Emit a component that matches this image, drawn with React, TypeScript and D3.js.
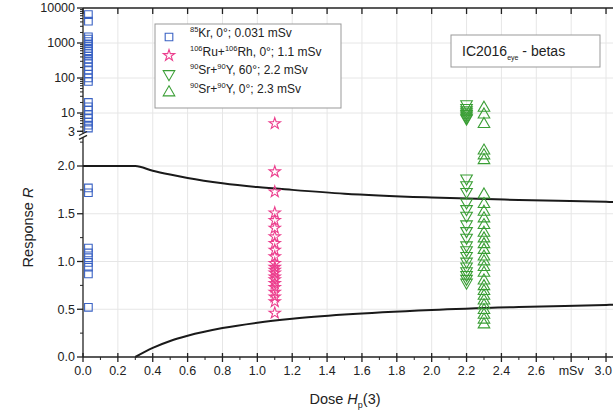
import React from 'react';
import * as d3 from 'd3';

// 85Kr, 0 deg, 0.031 mSv
const krDose = 0.031;
const krHigh = [6500, 4200, 1500, 1300, 1100, 950, 820, 700, 600, 500, 420, 340, 270, 210, 170, 130, 100, 80, 20, 15, 12, 9, 7, 5.5, 4.5, 3.7];
const krLow = [1.77, 1.72, 1.14, 1.09, 1.04, 0.99, 0.94, 0.87, 0.52];

// 106Ru+106Rh, 0 deg, 1.1 mSv
const ruDose = 1.1;
const ruHigh = [5];
const ruLow = [1.94, 1.73, 1.51, 1.43, 1.35, 1.26, 1.19, 1.12, 1.05, 0.98, 0.94, 0.91, 0.88, 0.84, 0.81, 0.77, 0.73, 0.68, 0.63, 0.58, 0.46];

// 90Sr+90Y, 60 deg, 2.2 mSv
const sr60Dose = 2.2;
const sr60High = [18, 14, 12, 10.5, 9.5, 8.5, 7.5, 7];
const sr60Low = [1.87, 1.8, 1.73, 1.62, 1.55, 1.48, 1.39, 1.32, 1.25, 1.17, 1.12, 1.06, 1.0, 0.95, 0.9, 0.86, 0.82, 0.78];

// 90Sr+90Y, 0 deg, 2.3 mSv
const sr0Dose = 2.3;
const sr0High = [14, 9, 4.8];
const sr0Low = [2.16, 2.11, 2.06, 1.7, 1.6, 1.52, 1.45, 1.38, 1.3, 1.24, 1.18, 1.12, 1.05, 1.0, 0.94, 0.88, 0.8, 0.74, 0.69, 0.64, 0.59, 0.54, 0.49, 0.44, 0.39, 0.34];

// limit curves
const upperX = [0, 0.3, 0.4, 0.5, 0.6, 0.8, 1.0, 1.2, 1.5, 2.0, 2.5, 3.0, 3.04];
const upperY = [2.0, 2.0, 1.95, 1.91, 1.875, 1.82, 1.78, 1.75, 1.71, 1.67, 1.645, 1.625, 1.623];
const lowerX = [0.3, 0.4, 0.5, 0.6, 0.8, 1.0, 1.2, 1.5, 2.0, 2.5, 3.0, 3.04];
const lowerY = [0, 0.095, 0.167, 0.222, 0.303, 0.359, 0.4, 0.444, 0.493, 0.524, 0.545, 0.547];

const xTicks = [0, 0.2, 0.4, 0.6, 0.8, 1.0, 1.2, 1.4, 1.6, 1.8, 2.0, 2.2, 2.4, 2.6, 2.8, 3.0];
const linTicks = [0, 0.5, 1.0, 1.5, 2.0];
const logTicks = [10000, 1000, 100, 10, 3];

const W = 613;
const H = 414;
const left = 83;
const top = 8;
const bottom = 357;
const font = '"Liberation Sans", Arial, sans-serif';

const blue = '#3b63c4';
const pink = '#ec3f8e';
const green = '#3a9e35';

const App = () => {
  const x = d3.scaleLinear().domain([0, 3.04]).range([left, W]);
  const yLin = d3.scaleLinear().domain([0, 2.0]).range([bottom, 166]);
  const yLog = d3.scaleLog().domain([10, 10000]).range([113, top]);
  const linTop = yLin(2.3);
  const logBottom = yLog(2.6);

  const square = d3.symbol().type(d3.symbolSquare).size(58)()!;
  const star = d3.symbol().type(d3.symbolStar).size(40)()!;
  const tri = d3.symbol().type(d3.symbolTriangle).size(58)()!;

  const upperLine = d3.line<number>().x((d, i) => x(upperX[i])).y(d => yLin(d)).curve(d3.curveMonotoneX);
  const lowerLine = d3.line<number>().x((d, i) => x(lowerX[i])).y(d => yLin(d)).curve(d3.curveMonotoneX);

  const pts = (dose: number, hi: number[], lo: number[]) => [
    ...hi.map(v => [x(dose), yLog(v)]),
    ...lo.map(v => [x(dose), yLin(v)]),
  ];

  const markers = (p: number[][], d: string, color: string, rot = 0) =>
    p.map(([px, py], i) => (
      <path key={i} d={d} transform={`translate(${px},${py}) rotate(${rot})`} fill="none" stroke={color} strokeWidth={1.1} />
    ));

  const minorLin = d3.range(0.25, 2.3, 0.5);
  const minorLog: number[] = [];
  [1, 10, 100, 1000].forEach(base => {
    for (let k = 2; k < 10; k++) {
      const v = base * k;
      if (v > 2.7 && v < 10000) minorLog.push(v);
    }
  });
  const minorX = d3.range(0.1, 3.04, 0.2);

  const legendRows = [
    { sup1: '85', a: 'Kr, 0°; 0.031 mSv', sup2: '', b: '', sym: square, color: blue, rot: 0 },
    { sup1: '106', a: 'Ru+', sup2: '106', b: 'Rh, 0°; 1.1 mSv', sym: star, color: pink, rot: 0 },
    { sup1: '90', a: 'Sr+', sup2: '90', b: 'Y, 60°; 2.2 mSv', sym: tri, color: green, rot: 180 },
    { sup1: '90', a: 'Sr+', sup2: '90', b: 'Y, 0°; 2.3 mSv', sym: tri, color: green, rot: 0 },
  ];

  return (
    <div style={{ position: 'fixed', left: 0, top: 0 }}>
      <svg width={W} height={H} style={{ display: 'block', background: '#fff' }} fontFamily={font}>
        {/* grid */}
        <g stroke="#e6e6e6" strokeWidth={1}>
          {xTicks.slice(1).map(t => (
            <line key={t} x1={x(t)} x2={x(t)} y1={top} y2={bottom} />
          ))}
          {linTicks.slice(1).map(t => (
            <line key={'l' + t} x1={left} x2={W} y1={yLin(t)} y2={yLin(t)} />
          ))}
          {[10, 100, 1000].map(t => (
            <line key={'g' + t} x1={left} x2={W} y1={yLog(t)} y2={yLog(t)} />
          ))}
        </g>

        {/* limit curves */}
        <path d={upperLine(upperY)!} fill="none" stroke="#1a1a1a" strokeWidth={2} />
        <path d={lowerLine(lowerY)!} fill="none" stroke="#1a1a1a" strokeWidth={2} />

        {/* data */}
        {markers(pts(krDose, krHigh, krLow), square, blue)}
        {markers(pts(ruDose, ruHigh, ruLow), star, pink)}
        {markers(pts(sr60Dose, sr60High, sr60Low), tri, green, 180)}
        {markers(pts(sr0Dose, sr0High, sr0Low), tri, green)}

        {/* axes */}
        <g stroke="#222" strokeWidth={1.3}>
          <line x1={left} x2={W} y1={top} y2={top} />
          <line x1={left} x2={W} y1={bottom} y2={bottom} />
          <line x1={left} x2={left} y1={top} y2={logBottom} />
          <line x1={left} x2={left} y1={linTop} y2={bottom} />
          {xTicks.map(t => (
            <g key={'xt' + t}>
              <line x1={x(t)} x2={x(t)} y1={bottom - 4} y2={bottom + 5} />
              <line x1={x(t)} x2={x(t)} y1={top} y2={top + 6} />
            </g>
          ))}
          {minorX.map(t => (
            <line key={'mx' + t} x1={x(t)} x2={x(t)} y1={bottom} y2={bottom + 3} strokeWidth={1} />
          ))}
          {linTicks.map(t => (
            <line key={'yt' + t} x1={left - 6} x2={left} y1={yLin(t)} y2={yLin(t)} />
          ))}
          {minorLin.map(t => (
            <line key={'ml' + t} x1={left - 3} x2={left} y1={yLin(t)} y2={yLin(t)} strokeWidth={1} />
          ))}
          {logTicks.map(t => (
            <line key={'lt' + t} x1={left - 6} x2={left} y1={yLog(t)} y2={yLog(t)} />
          ))}
          {minorLog.map(t => (
            <line key={'mg' + t} x1={left - 3} x2={left} y1={yLog(t)} y2={yLog(t)} strokeWidth={1} />
          ))}
          {/* axis break */}
          <line x1={left - 4} x2={left + 4} y1={logBottom + 2} y2={logBottom - 2} />
          <line x1={left - 4} x2={left + 4} y1={linTop + 2} y2={linTop - 2} />
        </g>

        {/* tick labels */}
        <g fontSize={12.5} fill="#222" textAnchor="middle">
          {xTicks.map(t => (
            <text key={'xl' + t} x={t === 3.0 ? W - 1 : x(t)} y={bottom + 18} textAnchor={t === 3.0 ? 'end' : 'middle'}>
              {t === 2.8 ? 'mSv' : d3.format('.1f')(t)}
            </text>
          ))}
        </g>
        <g fontSize={12.5} fill="#222" textAnchor="end">
          {linTicks.map(t => (
            <text key={'yl' + t} x={left - 8} y={yLin(t)} dy="0.35em">
              {d3.format('.1f')(t)}
            </text>
          ))}
          {logTicks.map(t => (
            <text key={'gl' + t} x={left - 8} y={yLog(t)} dy="0.35em">
              {t}
            </text>
          ))}
        </g>

        {/* axis titles */}
        <text x={345} y={404} fontSize={14.5} textAnchor="middle" fill="#222">
          Dose <tspan fontStyle="italic">H</tspan>
          <tspan fontSize={9} dy={4}>p</tspan>
          <tspan dy={-4}>(3)</tspan>
        </text>
        <text transform={`translate(33,${(top + bottom) / 2 + 45}) rotate(-90)`} fontSize={14.5} textAnchor="middle" fill="#222">
          Response <tspan fontStyle="italic">R</tspan>
        </text>

        {/* legend */}
        <g>
          <rect x={155} y={24} width={186} height={84} fill="#fff" stroke="#999" strokeWidth={1} />
          {legendRows.map((r, i) => {
            const yy = 37 + i * 18.5;
            return (
              <g key={'lg' + i}>
                <path d={r.sym} transform={`translate(169,${yy}) rotate(${r.rot})`} fill="none" stroke={r.color} strokeWidth={1.1} />
                <text x={190} y={yy} dy="0.35em" fontSize={12} fill="#222">
                  <tspan fontSize={7.5} dy={-5}>{r.sup1}</tspan>
                  <tspan dy={5}>{r.a}</tspan>
                  {r.sup2 && <tspan fontSize={7.5} dy={-5}>{r.sup2}</tspan>}
                  {r.b && <tspan dy={5}>{r.b}</tspan>}
                </text>
              </g>
            );
          })}
        </g>

        {/* label box */}
        <g>
          <rect x={451} y={35} width={149} height={32} fill="#fff" stroke="#999" strokeWidth={1} />
          <text x={462} y={56} fontSize={14} fill="#222">
            IC2016<tspan fontSize={7} dy={4}>eye</tspan>
            <tspan dy={-4}> - betas</tspan>
          </text>
        </g>
      </svg>
    </div>
  );
};

export default App;
